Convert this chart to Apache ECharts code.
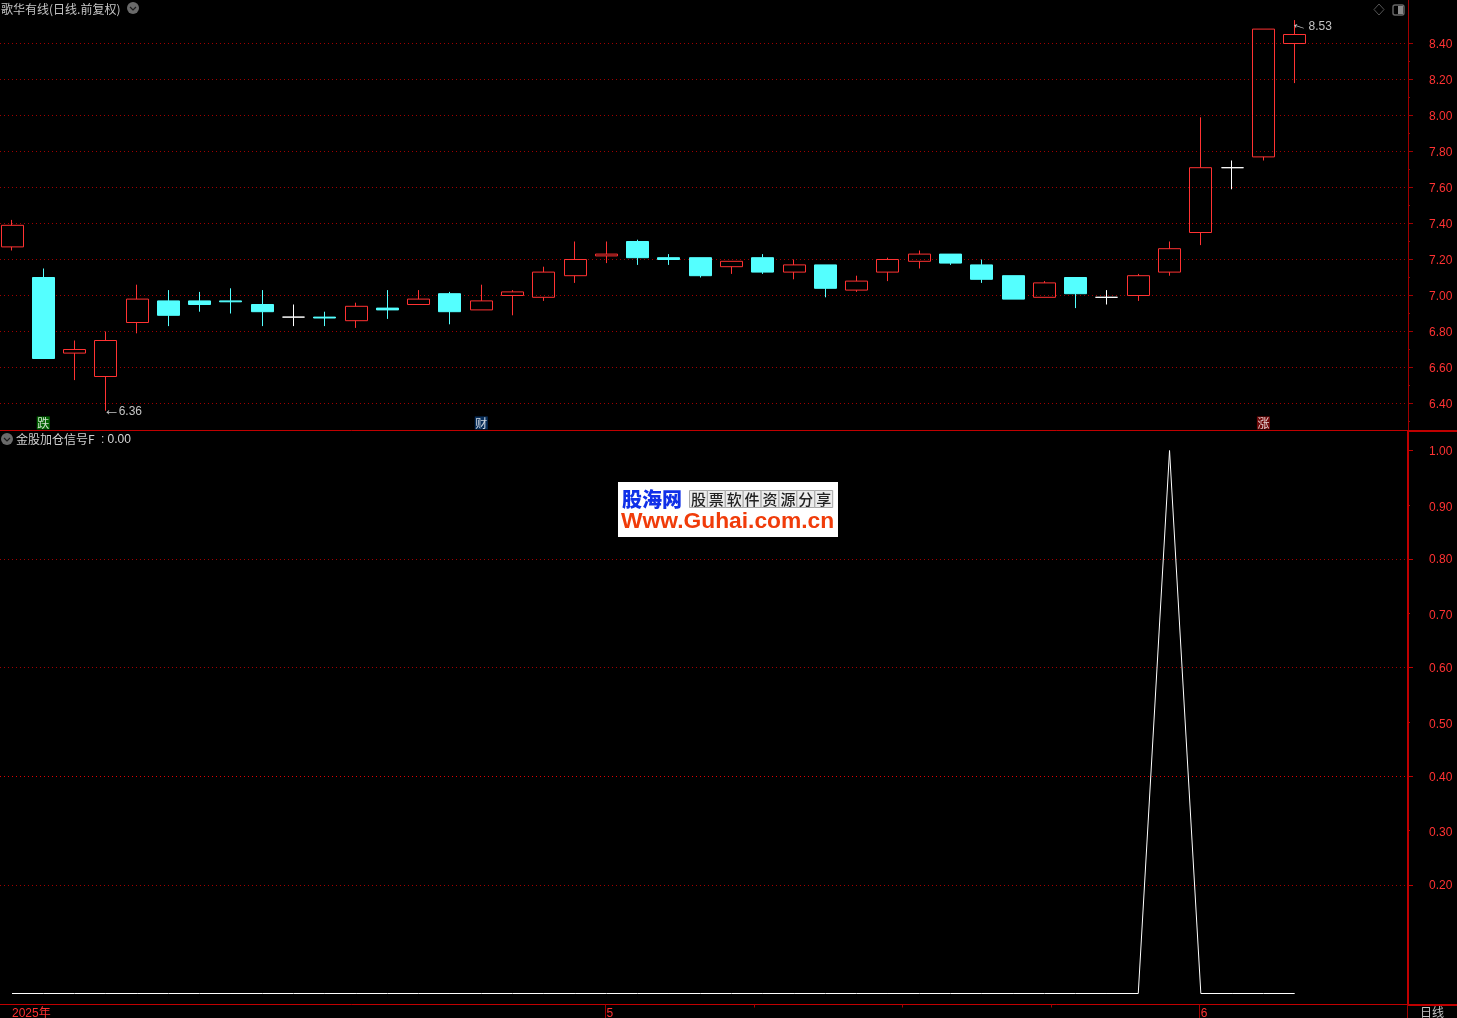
<!DOCTYPE html>
<html>
<head>
<meta charset="utf-8">
<style>html,body{margin:0;padding:0;background:#000;overflow:hidden}#c{width:1457px;height:1018px}</style>
<script src="https://cdn.jsdelivr.net/npm/echarts@6/dist/echarts.min.js"></script>
</head>
<body>
<div id="c"></div>
<script>
// ---- data ----
const opens  = [7.27,7.10,6.68,6.55,6.85,6.97,6.97,6.97,6.95,6.88,6.88,6.86,6.93,6.95,7.01,6.92,7.00,6.99,7.11,7.22,7.30,7.21,7.21,7.16,7.21,7.13,7.17,7.03,7.13,7.19,7.23,7.17,7.11,6.99,7.10,6.99,7.00,7.13,7.35,7.71,7.77,8.40];
const closes = [7.39,6.65,6.70,6.75,6.98,6.89,6.95,6.965,6.91,6.88,6.875,6.94,6.92,6.98,6.91,6.97,7.02,7.13,7.20,7.23,7.21,7.20,7.11,7.19,7.13,7.17,7.04,7.08,7.20,7.23,7.18,7.09,6.98,7.07,7.01,6.99,7.11,7.26,7.71,7.71,8.48,8.45];
const lows   = [7.25,6.65,6.53,6.36,6.79,6.83,6.91,6.90,6.83,6.83,6.83,6.82,6.87,6.95,6.84,6.92,6.89,6.97,7.07,7.18,7.17,7.17,7.10,7.12,7.12,7.09,6.99,7.02,7.08,7.15,7.17,7.07,6.98,6.99,6.93,6.95,6.97,7.11,7.28,7.59,7.75,8.18];
const highs  = [7.42,7.15,6.75,6.80,7.06,7.03,7.02,7.04,7.03,6.95,6.91,6.96,7.03,7.03,7.02,7.06,7.03,7.16,7.30,7.30,7.31,7.23,7.21,7.19,7.23,7.20,7.17,7.11,7.21,7.25,7.23,7.20,7.11,7.08,7.10,7.03,7.12,7.30,7.99,7.75,8.48,8.53];
const signal = [0,0,0,0,0,0,0,0,0,0,0,0,0,0,0,0,0,0,0,0,0,0,0,0,0,0,0,0,0,0,0,0,0,0,0,0,0,1,0,0,0,0];
const priceTicks = [6.4,6.6,6.8,7.0,7.2,7.4,7.6,7.8,8.0,8.2,8.4];
const priceMinorTicks = [6.3,6.5,6.7,6.9,7.1,7.3,7.5,7.7,7.9,8.1,8.3];
const signalEvenLabels = [0.2,0.4,0.6,0.8,1.0];
const signalOddLabels = [0.3,0.5,0.7,0.9];
const signalMinorTicks = [0.3,0.5,0.7,0.9];
const signalTopTick = [1.0];
const timeLabelAt = [0,19,38];
const timeLabelText = ['2025年','5','6'];
const timeMajorTicks = [18.97,37.96];
const timeMinorTicks = [23.73,28.46,33.23];
const sigilAt = [1,15,40];
const sigilText = ['跌','财','涨'];
const sigilColor = ['#007A00','#0A3A70','#8A0A0A'];
const sigilLevel = 6.292;
const lowMark = {index:3, value:6.36};
const highMark = {index:41, value:8.53};

// ---- styling ----
const RED='#FF3232', CYAN='#54FFFF', DOT='#A00000', GRAY='#C4C4C4';
const LAT='"Liberation Sans","Noto Sans CJK SC",sans-serif';
const xMin=-0.3836, xMax=44.622;
const candles = opens.map((o,i)=>[i,o,closes[i],lows[i],highs[i]]);
const line = signal.map((v,i)=>[i,v]);
const sigils = sigilAt.map((x,i)=>({value:[x,sigilLevel],itemStyle:{color:sigilColor[i]},label:{formatter:sigilText[i]}}));

const none={show:false};
const noLine={show:false,onZero:false};
function xAx(grid,extra){return Object.assign({type:'value',gridIndex:grid,min:xMin,max:xMax,position:'bottom',splitLine:none,axisLabel:none,axisTick:none,axisLine:noLine},extra);}
function yAx(grid,lo,hi,extra){return Object.assign({type:'value',gridIndex:grid,min:lo,max:hi,position:'right',splitLine:none,axisLabel:none,axisTick:none,axisLine:noLine},extra);}
const labelStyle=vals=>({show:true,color:RED,fontFamily:LAT,fontSize:12,margin:21,align:'left',customValues:vals,formatter:v=>Number(v).toFixed(2)});
const dotted=c=>({show:true,lineStyle:{color:c,width:1,type:[1,3]}});
const tick=(len,vals,c)=>({show:true,length:len,customValues:vals,lineStyle:{color:c,width:1}});

// Pane geometry: scales are set so that gridlines fall on whole pixel rows.
const topH=430.5, lowTop=431, lowH=573.5;
const pPitch=180, pMax=8.4+43.5/pPitch, pMin=8.4-(topH-43.5)/pPitch;
const sPitch=543, sMax=1+(450.5-lowTop)/sPitch, sMin=-(lowTop+lowH-993.5)/sPitch;
// one tick and dotted line per axis, pinned to its pixel row
function pinned(v,row,colour){
 const hi=v+(row-lowTop)/sPitch, lo=v-(lowTop+lowH-row)/sPitch;
 return yAx(1,lo,hi,{axisTick:tick(5,[v],'#C00000'),splitLine:dotted(colour)});
}
// label-only axes sit a few pixels below their ticks, as in the picture
const priceLabelAxis=(vals,px)=>yAx(0,pMin+px/pPitch,pMax+px/pPitch,{axisLabel:labelStyle(vals)});
const signalLabelAxis=(vals,px)=>yAx(1,sMin+px/sPitch,sMax+px/sPitch,{axisLabel:labelStyle(vals)});

const chipCells=['股','票','软','件','资','源','分','享'];
function chevron(cx,cy){return [
 {type:'circle',shape:{cx:cx,cy:cy,r:6},style:{fill:'#6a6a6a'},z:50},
 {type:'polyline',shape:{points:[[cx-3,cy-1],[cx,cy+2],[cx+3,cy-1]]},style:{stroke:'#1a1a1a',lineWidth:1.2,fill:null},z:51}];}
function txt(t,x,y,fill,font,align){return {type:'text',x:x,y:y,z:60,style:{text:t,fill:fill,font:font,textAlign:align||'left',textVerticalAlign:'middle'}};}
const graphics=[
 txt('歌华有线(日线.前复权)',1,9.5,GRAY,'12px "Noto Sans CJK SC"'),
 ...chevron(133,8),
 txt('金股加仓信号F',16,439.5,'#D0D0D0','12px "Noto Sans CJK SC"'),
 txt(':',101,439.5,'#D0D0D0','12px "Liberation Sans"'),
 txt('0.00',107.5,439.5,'#D8D8D8','12px "Liberation Sans"'),
 ...chevron(7,439),
 {type:'polygon',shape:{points:[[1379,4],[1384,9.5],[1379,15],[1374,9.5]]},style:{stroke:'#555',fill:null,lineWidth:1},z:50},
 {type:'rect',shape:{x:1393,y:5,width:11,height:10,r:2},style:{stroke:'#666',fill:null,lineWidth:1.4},z:50},
 {type:'rect',shape:{x:1398,y:6,width:5,height:8},style:{fill:'#8a8a8a'},z:50},
 // frame parts right of the axes
 {type:'rect',shape:{x:1408,y:430,width:49,height:2},style:{fill:'#C00000'},z:40},
 {type:'rect',shape:{x:1408,y:1004,width:49,height:2},style:{fill:'#C00000'},z:40},
 {type:'rect',shape:{x:1407,y:431,width:2,height:574},style:{fill:'#C00000'},z:40},
 {type:'rect',shape:{x:1407,y:1005,width:1,height:13},style:{fill:'#A00000'},z:40},
 txt('日线',1420,1012.5,GRAY,'12px "Noto Sans CJK SC"'),
 // site logo
 {type:'rect',shape:{x:618,y:482,width:220,height:55},style:{fill:'#fff'},z:70},
 {type:'text',x:622,y:499.5,z:71,style:{text:'股海网',fill:'#1030E8',font:'900 20px "Noto Sans CJK SC"',textVerticalAlign:'middle'}},
 {type:'text',x:621,y:522,z:71,style:{text:'Www.Guhai.com.cn',fill:'#F03C0A',font:'bold 22.8px "Liberation Sans"',textVerticalAlign:'middle'}},
 ...chipCells.flatMap((c,i)=>[
  {type:'rect',shape:{x:689.5+i*17.9,y:490.5,width:17.9,height:17},style:{fill:'#ECECEC',stroke:'#A8A8A8',lineWidth:1},z:71},
  {type:'text',x:698.4+i*17.9,y:499,z:72,style:{text:c,fill:'#222',font:'500 15px "Noto Sans CJK SC"',textAlign:'center',textVerticalAlign:'middle'}}
 ])
];

const chart=echarts.init(document.getElementById('c'),null,{renderer:'canvas'});
chart.setOption({
 animation:false,
 backgroundColor:'#000',
 grid:[
  {left:0,width:1408,top:0,height:topH,outerBoundsMode:'none'},
  {left:0,width:1408,top:lowTop,height:lowH,outerBoundsMode:'none'}
 ],
 xAxis:[
  xAx(0,{axisLine:{show:true,onZero:false,lineStyle:{color:'#C00000',width:1}}}),
  xAx(1,{axisLine:{show:true,onZero:false,lineStyle:{color:'#C00000',width:1}},
     axisLabel:{show:true,color:RED,fontFamily:LAT,fontSize:12,margin:3,align:'left',verticalAlign:'top',customValues:timeLabelAt,
       formatter:v=>timeLabelText[timeLabelAt.indexOf(Math.round(v))]},
     axisTick:tick(14,timeMajorTicks,'#A00000')}),
  xAx(1,{axisTick:tick(3,timeMinorTicks,'#A00000')})
 ],
 yAxis:[
  yAx(0,pMin,pMax,{axisLine:{show:true,onZero:false,lineStyle:{color:'#A00000',width:1}},
     axisTick:tick(5,priceTicks,'#A00000'),splitLine:dotted(DOT)}),
  yAx(0,pMin,pMax,{axisTick:tick(2,priceMinorTicks,'#A00000')}),
  yAx(1,sMin,sMax,{axisTick:tick(2,signalMinorTicks,'#C00000')}),
  yAx(1,sMin,sMax,{axisTick:tick(5,signalTopTick,'#C00000')}),
  pinned(0.2,885.5,'#A00000'),
  pinned(0.4,776.5,'#E00000'),
  pinned(0.6,667.5,'#A00000'),
  pinned(0.8,559.5,'#A00000'),
  priceLabelAxis(priceTicks,1),
  signalLabelAxis(signalEvenLabels,1),
  signalLabelAxis(signalOddLabels,2.5)
 ],
 series:[
  {type:'candlestick',name:'歌华有线',xAxisIndex:0,yAxisIndex:0,data:candles,barWidth:22.5,
   itemStyle:{color:'transparent',color0:CYAN,borderColor:RED,borderColor0:CYAN,borderColorDoji:'#FFFFFF',borderWidth:1},
   emphasis:{disabled:true},silent:true,
   markPoint:{symbol:'circle',symbolSize:1,silent:true,itemStyle:{color:'rgba(0,0,0,0)'},
    label:{color:GRAY,fontFamily:LAT,fontSize:12,position:'inside'},
    data:[
     {coord:[lowMark.index,lowMark.value],label:{formatter:'←',fontSize:17,offset:[6,0]}},
     {coord:[lowMark.index,lowMark.value],label:{formatter:lowMark.value.toFixed(2),offset:[24.5,1]}},
     {coord:[highMark.index,highMark.value],label:{formatter:'←',fontSize:17,rotate:-18,offset:[6,3]}},
     {coord:[highMark.index,highMark.value],label:{formatter:highMark.value.toFixed(2),offset:[25.5,7]}}
    ]}
  },
  {type:'scatter',xAxisIndex:0,yAxisIndex:0,data:sigils,symbol:'rect',symbolSize:13,silent:true,
   label:{show:true,position:'inside',color:'#fff',fontSize:12,fontFamily:'"Noto Sans CJK SC"'}},
  {type:'line',name:'金股加仓信号F',xAxisIndex:1,yAxisIndex:2,data:line,showSymbol:false,symbol:'none',silent:true,
   lineStyle:{color:'#fff',width:1}}
 ],
 graphic:{elements:graphics}
});
</script>
</body>
</html>
